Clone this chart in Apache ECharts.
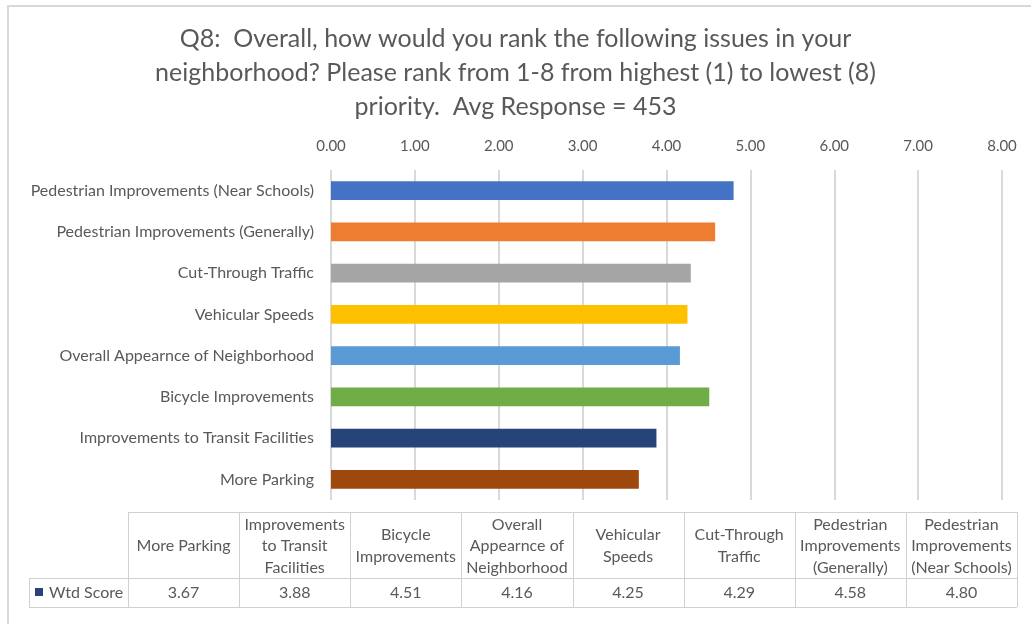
<!DOCTYPE html>
<html>
<head>
<meta charset="utf-8">
<script src="https://cdn.jsdelivr.net/npm/echarts@6/dist/echarts.min.js"></script>
<style>
html,body{margin:0;padding:0;background:#fff;}
#chart{width:1031px;height:624px;}
</style>
</head>
<body>
<div id="chart"></div>
<script>
// ---- data ----
const titleLines = [
  'Q8:  Overall, how would you rank the following issues in your',
  'neighborhood? Please rank from 1-8 from highest (1) to lowest (8)',
  'priority.  Avg Response = 453'
];
const categories = [
  'More Parking',
  'Improvements to Transit Facilities',
  'Bicycle Improvements',
  'Overall Appearnce of Neighborhood',
  'Vehicular Speeds',
  'Cut-Through Traffic',
  'Pedestrian Improvements (Generally)',
  'Pedestrian Improvements (Near Schools)'
];
const tableHeaders = [
  ['More Parking'],
  ['Improvements', 'to Transit', 'Facilities'],
  ['Bicycle', 'Improvements'],
  ['Overall', 'Appearnce of', 'Neighborhood'],
  ['Vehicular', 'Speeds'],
  ['Cut-Through', 'Traffic'],
  ['Pedestrian', 'Improvements', '(Generally)'],
  ['Pedestrian', 'Improvements', '(Near Schools)']
];
const seriesName = 'Wtd Score';
const wtdScore = [3.67, 3.88, 4.51, 4.16, 4.25, 4.29, 4.58, 4.80];
const barColors = ['#9E480E', '#264478', '#70AD47', '#5B9BD5', '#FFC000', '#A5A5A5', '#ED7D31', '#4472C4'];
const legendColor = '#264478';
const xMin = 0, xMax = 8, xStep = 1;

// ---- styling / layout ----
const FONT = 'Lato, "Open Sans", sans-serif';
const TXT = '#595959';
const GRIDC = '#d9d9d9';
const tbl = { left: 128, right: 1017, legendLeft: 29, top: 512, mid: 578, bottom: 607 };

const chart = echarts.init(document.getElementById('chart'), null, { renderer: 'canvas' });

const graphics = [];
// outer chart border
graphics.push({
  type: 'rect', shape: { x: 8, y: 6, width: 1100, height: 700 },
  style: { fill: 'none', stroke: GRIDC, lineWidth: 2 }, silent: true
});
// title
graphics.push({
  type: 'text', left: 'center', top: 22,
  style: {
    text: titleLines.join('\n'), fill: TXT, font: '25px ' + FONT,
    textAlign: 'center', lineHeight: 34
  }
});
// data table
const nCols = tableHeaders.length;
const colW = (tbl.right - tbl.left) / nCols;
function hline(x1, x2, y) {
  graphics.push({ type: 'line', shape: { x1: x1, y1: y, x2: x2, y2: y }, style: { stroke: '#d0d0d0', lineWidth: 1 }, silent: true });
}
function vline(x, y1, y2) {
  graphics.push({ type: 'line', shape: { x1: x, y1: y1, x2: x, y2: y2 }, style: { stroke: '#d0d0d0', lineWidth: 1 }, silent: true });
}
hline(tbl.left, tbl.right, tbl.top + 0.5);
hline(tbl.legendLeft, tbl.right, tbl.mid + 0.5);
hline(tbl.legendLeft, tbl.right, tbl.bottom + 0.5);
vline(tbl.legendLeft + 0.5, tbl.mid, tbl.bottom);
for (let i = 0; i <= nCols; i++) {
  const x = Math.round(tbl.left + i * colW) + 0.5;
  vline(x, tbl.top, tbl.bottom);
}
for (let i = 0; i < nCols; i++) {
  const cx = tbl.left + (i + 0.5) * colW;
  graphics.push({
    type: 'text', x: cx, y: (tbl.top + tbl.mid) / 2 + 1,
    style: {
      text: tableHeaders[i].join('\n'), fill: TXT, font: '16px ' + FONT,
      textAlign: 'center', textVerticalAlign: 'middle', lineHeight: 21.5
    }
  });
  graphics.push({
    type: 'text', x: cx, y: (tbl.mid + tbl.bottom) / 2,
    style: {
      text: wtdScore[i].toFixed(2), fill: TXT, font: '16px ' + FONT,
      textAlign: 'center', textVerticalAlign: 'middle'
    }
  });
}
// legend key in table
graphics.push({
  type: 'rect', shape: { x: 35, y: 588, width: 8, height: 8 },
  style: { fill: legendColor }, silent: true
});
graphics.push({
  type: 'text', x: 49, y: (tbl.mid + tbl.bottom) / 2,
  style: { text: seriesName, fill: TXT, font: '16px ' + FONT, textVerticalAlign: 'middle' }
});

const option = {
  animation: false,
  backgroundColor: '#fff',
  grid: { left: 331, right: 29, top: 170, bottom: 124, containLabel: false },
  xAxis: {
    type: 'value', position: 'top', min: xMin, max: xMax, interval: xStep,
    axisLine: { show: false }, axisTick: { show: false },
    axisLabel: {
      formatter: v => v.toFixed(2), color: TXT, fontFamily: FONT, fontSize: 15, margin: 16
    },
    splitLine: { show: true, lineStyle: { color: GRIDC, width: 2 } }
  },
  yAxis: {
    type: 'category', data: categories,
    axisLine: { show: false }, axisTick: { show: false },
    axisLabel: { color: TXT, fontFamily: FONT, fontSize: 16, margin: 17 }
  },
  series: [{
    name: seriesName, type: 'bar', data: wtdScore, barCategoryGap: '54%',
    itemStyle: { color: p => barColors[p.dataIndex] }
  }],
  graphic: graphics
};
chart.setOption(option);
</script>
</body>
</html>
